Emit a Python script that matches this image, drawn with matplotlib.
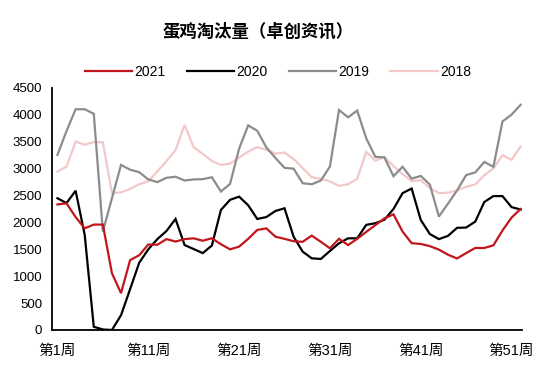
import matplotlib
matplotlib.use("Agg")
import matplotlib.pyplot as plt
import numpy as np

plt.rcParams['font.family'] = ['Liberation Sans', 'Noto Sans CJK SC', 'DejaVu Sans']

title = "蛋鸡淘汰量（卓创资讯）"
weeks = [f"第{i}周" for i in range(1, 53)]
tick_idx = [0, 10, 20, 30, 40, 50]

s2021 = [2335, 2355, 2100, 1890, 1960, 1960, 1055, 685, 1300, 1390,
         1590, 1585, 1690, 1645, 1690, 1705, 1660, 1705, 1595, 1500,
         1550, 1695, 1860, 1890, 1735, 1695, 1650, 1640, 1755, 1640,
         1520, 1695, 1580, 1695, 1825, 1950, 2075, 2150, 1830, 1615,
         1600, 1560, 1495, 1400, 1330, 1430, 1525, 1525, 1575, 1850,
         2090, 2250]
s2020 = [2450, 2360, 2590, 1770, 60, 10, 0, 275, 760, 1250,
         1500, 1690, 1840, 2065, 1580, 1505, 1430, 1570, 2232, 2420,
         2480, 2320, 2065, 2100, 2213, 2263, 1736, 1457, 1333, 1321,
         1469, 1612, 1705, 1705, 1955, 1985, 2050, 2250, 2545, 2630,
         2047, 1785, 1690, 1750, 1900, 1905, 2015, 2380, 2490, 2490,
         2285, 2240]
s2019 = [3255, 3700, 4105, 4105, 4020, 1830, 2450, 3070, 2980, 2935,
         2800, 2750, 2830, 2850, 2780, 2800, 2805, 2840, 2575, 2715,
         3370, 3805, 3705, 3395, 3200, 3015, 3000, 2730, 2710, 2780,
         3040, 4090, 3955, 4080, 3565, 3220, 3210, 2860, 3035, 2815,
         2865, 2705, 2110, 2350, 2595, 2880, 2930, 3125, 3035, 3877,
         4005, 4188]
s2018 = [2945, 3040, 3505, 3445, 3495, 3490, 2545, 2560, 2625, 2710,
         2765, 2950, 3140, 3345, 3813, 3398, 3274, 3143, 3069, 3094,
         3205, 3317, 3400, 3350, 3280, 3300, 3180, 3010, 2840, 2810,
         2765, 2680, 2710, 2810, 3310, 3150, 3215, 3050, 2900, 2770,
         2785, 2640, 2545, 2555, 2595, 2665, 2705, 2880, 3005, 3250,
         3165, 3412]

series = [("2021", s2021, "#C0161C"),
          ("2020", s2020, "#000000"),
          ("2019", s2019, "#8C8C8C"),
          ("2018", s2018, "#F3C8C9")]

fig = plt.figure(figsize=(5.5, 3.91), dpi=100)
ax = fig.add_axes([52/550, 1 - 330/391, 470/550, 242/391])

x = np.arange(len(weeks))
lines = []
for name, vals, col in series[::-1]:
    l, = ax.plot(x, vals, color=col, lw=1.6, label=name, solid_joinstyle='miter')
    lines.append(l)
lines = lines[::-1]

ax.set_xlim(-0.6, 51.15)
ax.set_ylim(0, 4500)
ax.set_yticks(np.arange(0, 4501, 500))
ax.set_xticks(tick_idx)
ax.set_xticklabels([weeks[i] for i in tick_idx], fontsize=10.5,
                   family=['Liberation Sans', 'Noto Sans CJK SC'])
for t in ax.get_yticklabels():
    t.set_fontsize(9.5)
ax.tick_params(axis='x', length=0, pad=10)
ax.tick_params(axis='y', length=0, pad=7)
for s in ['top', 'right']:
    ax.spines[s].set_visible(False)
ax.spines['left'].set_linewidth(1.3)
ax.spines['bottom'].set_linewidth(1.3)

fig.text(258/550, 1 - 32/391, title, ha='center', va='center', fontsize=12.5,
         fontweight='bold', family=['Noto Sans CJK SC'])

fig.legend(handles=lines, loc='center', bbox_to_anchor=(278/550, 1 - 72/391),
           ncol=4, frameon=False, fontsize=10, handlelength=3.4,
           handletextpad=0.2, columnspacing=1.5)

fig.savefig("out.png", dpi=100)
